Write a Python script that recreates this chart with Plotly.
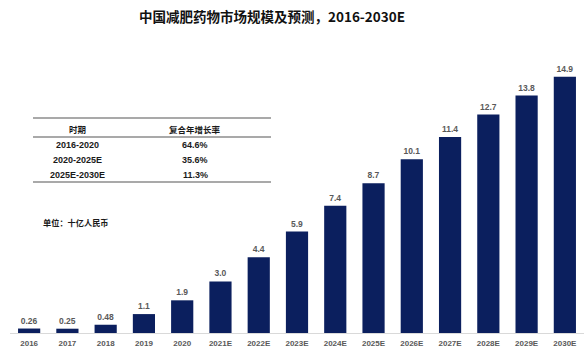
import plotly.graph_objects as go

categories = ["2016", "2017", "2018", "2019", "2020", "2021E", "2022E", "2023E",
              "2024E", "2025E", "2026E", "2027E", "2028E", "2029E", "2030E"]
values = [0.26, 0.25, 0.48, 1.1, 1.9, 3.0, 4.4, 5.9, 7.4, 8.7, 10.1, 11.4, 12.7, 13.8, 14.9]
value_labels = ["0.26", "0.25", "0.48", "1.1", "1.9", "3.0", "4.4", "5.9", "7.4", "8.7",
                "10.1", "11.4", "12.7", "13.8", "14.9"]

table_header = ["时期", "复合年增长率"]
table_periods = ["2016-2020", "2020-2025E", "2025E-2030E"]
table_cagr = ["64.6%", "35.6%", "11.3%"]

title = "中国减肥药物市场规模及预测，2016-2030E"
unit_text = "单位：十亿人民币"

W, H = 584, 358
L, R, T, B = 10, 0, 60, 25
PW, PH = W - L - R, H - T - B

def px(x):
    return (x - L) / PW

def py(y):
    return (H - B - y) / PH

BAR = "#0B1F5E"
GRAY = "#595959"
FONT = "Liberation Sans, Arial, Noto Sans CJK SC, sans-serif"
CJK = "Noto Sans CJK SC, sans-serif"

fig = go.Figure(go.Bar(
    x=categories, y=values,
    text=[f"<b>{t}</b>" for t in value_labels],
    textposition="outside",
    textfont=dict(size=8.5, color=GRAY, family=FONT),
    marker=dict(color=BAR, line=dict(width=0)),
    width=0.58,
    cliponaxis=False,
    hoverinfo="skip",
))

fig.update_layout(
    width=W, height=H,
    margin=dict(l=L, r=R, t=T, b=B, autoexpand=False),
    paper_bgcolor="white", plot_bgcolor="white",
    showlegend=False,
    xaxis=dict(
        type="category", showgrid=False, zeroline=False,
        showline=True, linecolor="#D9D9D9", linewidth=1,
        ticks="", tickfont=dict(size=8, color=GRAY, family=FONT),
        tickprefix="<b>", ticksuffix="</b>",
        ticklabelstandoff=2,
    ),
    yaxis=dict(range=[0, 15.87], visible=False, showgrid=False, zeroline=False),
)

# Title
fig.add_annotation(
    x=px(272), y=py(16), xref="paper", yref="paper",
    text=f"<b>{title}</b>", showarrow=False,
    font=dict(size=13.5, color="#111111", family=CJK),
    xanchor="center", yanchor="middle",
)

# Table lines
for yy in (118, 137, 182):
    fig.add_shape(type="line", xref="paper", yref="paper",
                  x0=px(33), x1=px(271), y0=py(yy), y1=py(yy),
                  line=dict(color="#8C8C8C", width=1.6))

col1, col2 = 77, 195
for col, txt in zip((col1, col2), table_header):
    fig.add_annotation(x=px(col), y=py(128.5), xref="paper", yref="paper",
                       text=f"<b>{txt}</b>", showarrow=False,
                       font=dict(size=8.5, color="#1A1A1A", family=CJK),
                       xanchor="center", yanchor="middle")
for i, (p, c) in enumerate(zip(table_periods, table_cagr)):
    yy = 144.5 + i * 15
    for col, txt in ((col1, p), (col2, c)):
        fig.add_annotation(x=px(col), y=py(yy), xref="paper", yref="paper",
                           text=f"<b>{txt}</b>", showarrow=False,
                           font=dict(size=9, color="#1A1A1A", family=FONT),
                           xanchor="center", yanchor="middle")

# Unit
fig.add_annotation(x=px(41), y=py(222), xref="paper", yref="paper",
                   text=f"<b>{unit_text}</b>", showarrow=False,
                   font=dict(size=8.2, color="#1A1A1A", family=CJK),
                   xanchor="left", yanchor="middle")

fig.write_html("out.html", config={"displayModeBar": False},
               post_script="document.body.style.margin='0';")
